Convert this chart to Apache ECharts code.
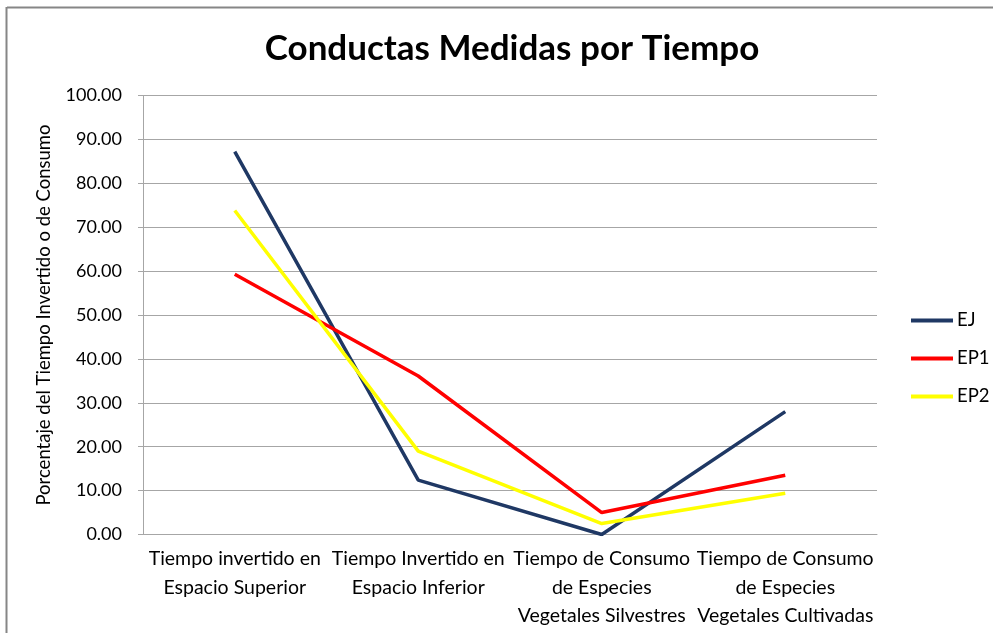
<!DOCTYPE html>
<html>
<head>
<meta charset="utf-8">
<script src="https://cdn.jsdelivr.net/npm/echarts@6/dist/echarts.min.js"></script>
<style>
  html, body { margin: 0; padding: 0; background: #fff; }
  #chart { width: 993px; height: 633px; }
</style>
</head>
<body>
<div id="chart"></div>
<script>
var categories = [
  'Tiempo invertido en\nEspacio Superior',
  'Tiempo Invertido en\nEspacio Inferior',
  'Tiempo de Consumo\nde Especies\nVegetales Silvestres',
  'Tiempo de Consumo\nde Especies\nVegetales Cultivadas'
]
var ejData = [87.2, 12.4, 0.0, 28.0]
var ep1Data = [59.3, 36.1, 5.0, 13.5]
var ep2Data = [73.8, 19.0, 2.5, 9.4]

var font = 'Lato, "Open Sans", sans-serif'

var chart = echarts.init(document.getElementById('chart'))
var option = {
  backgroundColor: '#fff',
  animation: false,
  title: {
    text: 'Conductas Medidas por Tiempo',
    left: 507,
    textAlign: 'center',
    top: 26,
    textStyle: { fontFamily: font, fontWeight: 'bold', fontSize: 35, color: '#000' }
  },
  legend: {
    orient: 'vertical',
    left: 906,
    top: 306,
    itemGap: 19,
    itemWidth: 42,
    itemHeight: 18,
    icon: 'path://M0,8 L42,8 L42,12 L0,12 Z',
    textStyle: { fontFamily: font, fontSize: 18.5, color: '#000', padding: [0, 0, 0, -1] },
    data: ['EJ', 'EP1', 'EP2']
  },
  grid: { left: 143, right: 116, top: 95.5, bottom: 98.5, containLabel: false },
  xAxis: {
    type: 'category',
    data: categories,
    boundaryGap: true,
    axisLine: { lineStyle: { color: '#a6a6a6', width: 1 } },
    axisTick: { show: false },
    axisLabel: {
      interval: 0,
      margin: 10,
      lineHeight: 28.5,
      fontFamily: font,
      fontSize: 19.5,
      color: '#000'
    }
  },
  yAxis: {
    type: 'value',
    min: 0,
    max: 100,
    interval: 10,
    name: 'Porcentaje del Tiempo Invertido o de Consumo',
    nameLocation: 'middle',
    nameGap: 89,
    nameTextStyle: { fontFamily: font, fontSize: 18.5, color: '#000' },
    axisLine: { show: true, lineStyle: { color: '#a6a6a6', width: 1 } },
    axisTick: { show: true, length: 5, lineStyle: { color: '#a6a6a6' } },
    axisLabel: {
      margin: 21,
      fontFamily: font,
      fontSize: 18,
      color: '#000',
      formatter: function (v) { return v.toFixed(2) }
    },
    splitLine: { lineStyle: { color: '#a6a6a6', width: 1 } }
  },
  graphic: [
    { type: 'line', shape: { x1: 7, y1: 7.5, x2: 993, y2: 7.5 }, style: { stroke: '#868686', lineWidth: 2 } },
    { type: 'line', shape: { x1: 6.5, y1: 7, x2: 6.5, y2: 633 }, style: { stroke: '#868686', lineWidth: 2 } }
  ],
  series: [
    {
      name: 'EJ', type: 'line', data: ejData, symbol: 'none',
      lineStyle: { color: '#1f3864', width: 3.5 }, itemStyle: { color: '#1f3864' }
    },
    {
      name: 'EP1', type: 'line', data: ep1Data, symbol: 'none',
      lineStyle: { color: '#ff0000', width: 3.5 }, itemStyle: { color: '#ff0000' }
    },
    {
      name: 'EP2', type: 'line', data: ep2Data, symbol: 'none',
      lineStyle: { color: '#ffff00', width: 3.5 }, itemStyle: { color: '#ffff00' }
    }
  ]
}
chart.setOption(option)
</script>
</body>
</html>
